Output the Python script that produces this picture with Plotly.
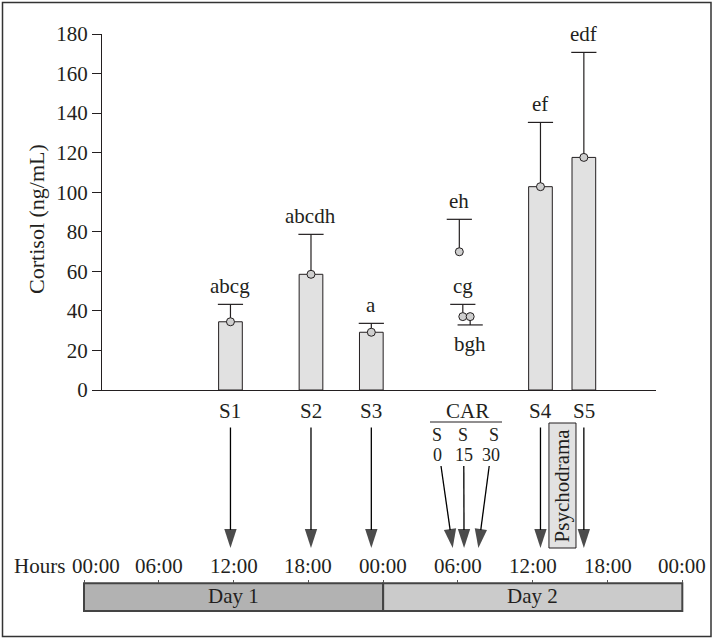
import plotly.graph_objects as go

W, H = 715, 639

# ---------------- data ----------------
sample_labels = ["S1", "S2", "S3", "S4", "S5"]
sample_hours = [11.75, 18.21, 23.05, 36.62, 40.10]      # hours from 00:00 of day 1
cortisol_mean = [34.5, 58.5, 29.2, 102.8, 117.6]         # ng/mL
cortisol_err = [8.8, 20.2, 4.5, 32.5, 53.1]
sig_letters = ["abcg", "abcdh", "a", "ef", "edf"]

car_labels = ["0", "15", "30"]
car_plot_hours = [30.11, 30.39, 30.98]
car_arrow_hours = [29.58, 30.49, 31.64]
car_mean = [69.9, 37.1, 37.1]
car_err_up = [16.4, 6.2, 0.0]
car_err_down = [0.0, 0.0, 4.2]
car_letters = ["eh", "cg", "bgh"]

hour_ticks = [0, 6, 12, 18, 24, 30, 36, 42, 48]
hour_ticktext = ["00:00", "06:00", "12:00", "18:00", "00:00",
                 "06:00", "12:00", "18:00", "00:00"]
day_labels = ["Day 1", "Day 2"]
day_start = [0, 24]
day_end = [24, 48]
psychodrama_span = [37.30, 39.47]
y_ticks = [0, 20, 40, 60, 80, 100, 120, 140, 160, 180]

# ---------------- style / layout constants ----------------
FONT = "Liberation Serif"
FS = 21
INK = "#231f20"
PX_PER_H = 12.465
X0_PX = 84.0


def h_of_px(px):
    return (px - X0_PX) / PX_PER_H


def yp(px):  # paper fraction from pixel-from-top
    return 1 - px / H


fig = go.Figure()

# bars
fig.add_trace(go.Bar(
    x=sample_hours, y=cortisol_mean, width=1.9,
    marker=dict(color="#e1e1e1", line=dict(color=INK, width=1)),
    xaxis="x", yaxis="y", showlegend=False, hoverinfo="skip"))

# means with error stems (bars + CAR)
all_x = sample_hours + car_plot_hours
all_y = cortisol_mean + car_mean
all_up = cortisol_err + car_err_up
all_dn = [0.0] * len(cortisol_err) + car_err_down
fig.add_trace(go.Scatter(
    x=all_x, y=all_y, mode="markers",
    marker=dict(size=8, color="#cfcfcf", line=dict(color=INK, width=1)),
    error_y=dict(type="data", symmetric=False, array=all_up, arrayminus=all_dn,
                 width=0, thickness=1.2, color=INK),
    cliponaxis=False, xaxis="x", yaxis="y", showlegend=False, hoverinfo="skip"))

# error caps
cap_x, cap_y = [], []
for xv, yv, up, dn in zip(all_x, all_y, all_up, all_dn):
    if up > 0:
        cap_x.append(xv); cap_y.append(yv + up)
    if dn > 0:
        cap_x.append(xv); cap_y.append(yv - dn)
fig.add_trace(go.Scatter(
    x=cap_x, y=cap_y, mode="markers",
    marker=dict(symbol="line-ew", size=18, line=dict(color=INK, width=1.2)),
    cliponaxis=False, xaxis="x", yaxis="y", showlegend=False, hoverinfo="skip"))

annotations = []
# significance letters
letter_x = sample_hours + car_plot_hours
letter_txt = sig_letters + car_letters
for xv, yv, up, dn, t in zip(letter_x, all_y, all_up, all_dn, letter_txt):
    if dn > 0:
        yy, ys = yv - dn, -18.6
    else:
        yy, ys = yv + up, 18.6
    annotations.append(dict(x=xv, y=yy, xref="x", yref="y", text=t, showarrow=False,
                            yshift=ys, xanchor="center", yanchor="middle",
                            font=dict(family=FONT, size=FS, color=INK)))

# y-axis title
annotations.append(dict(x=35.9 / W, y=yp(219), xref="paper", yref="paper",
                        text="Cortisol (ng/mL)", textangle=-90, showarrow=False,
                        xanchor="center", yanchor="middle",
                        font=dict(family=FONT, size=22, color=INK)))

# ---------------- lower schematic (x2 hours, y2 pixel rows) ----------------
LABEL_Y = 411.2
ARROW_TOP = 427.5
ARROW_TIP = 548
CAR_LINE_Y = 422
CAR_S_Y = 434.5
CAR_NUM_Y = 454.5
CAR_FS = 18
CAR_ARROW_TOP = 466
HOURS_Y = 566.2
BAR_TOP, BAR_BOT = 583.3, 611
DAY_Y = 595.5

car_tail_px = [441, 463.8, 489.2]
car_s_px = [437.3, 463.3, 493.7]
car_num_px = [437.3, 464.0, 491.0]
car_center_h = h_of_px(467)

for lab, xv in zip(sample_labels, sample_hours):
    annotations.append(dict(x=xv, y=LABEL_Y, xref="x2", yref="y2", text=lab,
                            showarrow=False, xanchor="center", yanchor="middle",
                            font=dict(family=FONT, size=FS, color=INK)))
annotations.append(dict(x=car_center_h, y=LABEL_Y, xref="x2", yref="y2", text="CAR",
                        showarrow=False, xanchor="center", yanchor="middle",
                        font=dict(family=FONT, size=FS, color=INK)))
for lab, sp, npx in zip(car_labels, car_s_px, car_num_px):
    annotations.append(dict(x=h_of_px(sp), y=CAR_S_Y, xref="x2", yref="y2", text="S",
                            showarrow=False, xanchor="center", yanchor="middle",
                            borderpad=0,
                            font=dict(family=FONT, size=CAR_FS, color=INK)))
    annotations.append(dict(x=h_of_px(npx), y=CAR_NUM_Y, xref="x2", yref="y2", text=lab,
                            showarrow=False, xanchor="center", yanchor="middle",
                            borderpad=0,
                            font=dict(family=FONT, size=CAR_FS, color=INK)))

# arrows: samples
arrow_sets = [([xv, xv], [ARROW_TOP, ARROW_TIP]) for xv in sample_hours]
arrow_sets += [([h_of_px(tp), ah], [CAR_ARROW_TOP, ARROW_TIP])
               for tp, ah in zip(car_tail_px, car_arrow_hours)]
for xs, ys in arrow_sets:
    fig.add_trace(go.Scatter(
        x=xs, y=ys, mode="lines+markers", xaxis="x2", yaxis="y2",
        line=dict(color="#000000", width=1.3),
        marker=dict(symbol="arrow", size=[0, 20], angleref="previous",
                    color="#000000", line=dict(width=0)),
        cliponaxis=False, showlegend=False, hoverinfo="skip"))

shapes = []
# psychodrama box
shapes.append(dict(type="rect", xref="x2", yref="y2",
                   x0=psychodrama_span[0], x1=psychodrama_span[1], y0=423, y1=548,
                   fillcolor="#e2e2e2", line=dict(color=INK, width=1), layer="below"))
annotations.append(dict(x=sum(psychodrama_span) / 2, y=485, xref="x2", yref="y2",
                        text="Psychodrama", textangle=-90, showarrow=False,
                        xanchor="center", yanchor="middle",
                        font=dict(family=FONT, size=FS, color=INK)))
# CAR underline
shapes.append(dict(type="line", xref="x2", yref="y2", x0=h_of_px(430), x1=h_of_px(502),
                   y0=CAR_LINE_Y, y1=CAR_LINE_Y, line=dict(color=INK, width=1.2)))

# day bars
day_fill = ["#b2b2b2", "#cbcbcb"]
for lab, a, b, c in zip(day_labels, day_start, day_end, day_fill):
    shapes.append(dict(type="rect", xref="x2", yref="y2", x0=a, x1=b,
                       y0=BAR_TOP, y1=BAR_BOT, fillcolor=c,
                       line=dict(color="#444444", width=2), layer="below"))
    annotations.append(dict(x=(a + b) / 2, y=DAY_Y, xref="x2", yref="y2", text=lab,
                            showarrow=False, xanchor="center", yanchor="middle",
                            font=dict(family=FONT, size=FS, color=INK)))

# hour labels
for i, (hv, ht) in enumerate(zip(hour_ticks, hour_ticktext)):
    annotations.append(dict(x=hv, y=HOURS_Y, xref="x2", yref="y2", text=ht,
                            showarrow=False, xanchor="center", yanchor="middle",
                            xshift=11.8 if i == 0 else 0,
                            font=dict(family=FONT, size=FS, color=INK)))
annotations.append(dict(x=66.5 / W, y=yp(HOURS_Y), xref="paper", yref="paper", text="Hours",
                        showarrow=False, xanchor="right", yanchor="middle",
                        font=dict(family=FONT, size=FS, color=INK)))

# outer frame
shapes.append(dict(type="rect", xref="paper", yref="paper",
                   x0=2.5 / W, x1=711 / W, y0=yp(636.5), y1=yp(2.5),
                   line=dict(color="#333333", width=1.5), fillcolor="rgba(0,0,0,0)"))

fig.update_layout(
    width=W, height=H, margin=dict(l=0, r=0, t=0, b=0, autoexpand=False),
    paper_bgcolor="white", plot_bgcolor="rgba(0,0,0,0)",
    showlegend=False, barmode="overlay",
    font=dict(family=FONT, size=FS, color=INK),
    xaxis=dict(domain=[102 / W, 656 / W], range=[h_of_px(102), h_of_px(656)],
               showline=True, linecolor=INK, linewidth=1.2, ticks="",
               showticklabels=False, showgrid=False, zeroline=False,
               automargin=False, anchor="y"),
    yaxis=dict(domain=[yp(390), yp(34)], range=[0, 180], tickvals=y_ticks,
               showline=True, linecolor=INK, linewidth=1.2, ticks="outside",
               ticklen=9, tickwidth=1.2, tickcolor=INK, showgrid=False,
               zeroline=False, tickfont=dict(family=FONT, size=FS, color=INK),
               automargin=False, anchor="x"),
    xaxis2=dict(domain=[80 / W, 686 / W], range=[h_of_px(80), h_of_px(686)],
                anchor="free", position=yp(BAR_TOP), side="top",
                tickvals=hour_ticks, ticks="outside", ticklen=3, tickwidth=1,
                tickcolor="#555555", showticklabels=False, showline=False,
                showgrid=False, zeroline=False, automargin=False),
    yaxis2=dict(domain=[0, 1], range=[H, 0], anchor="x2", visible=False,
                showgrid=False, zeroline=False, automargin=False),
    shapes=shapes, annotations=annotations,
)

page_js = "document.body.style.margin='0';document.body.style.overflow='hidden';"

fig.write_html("out.html", config={"displayModeBar": False}, post_script=page_js)
